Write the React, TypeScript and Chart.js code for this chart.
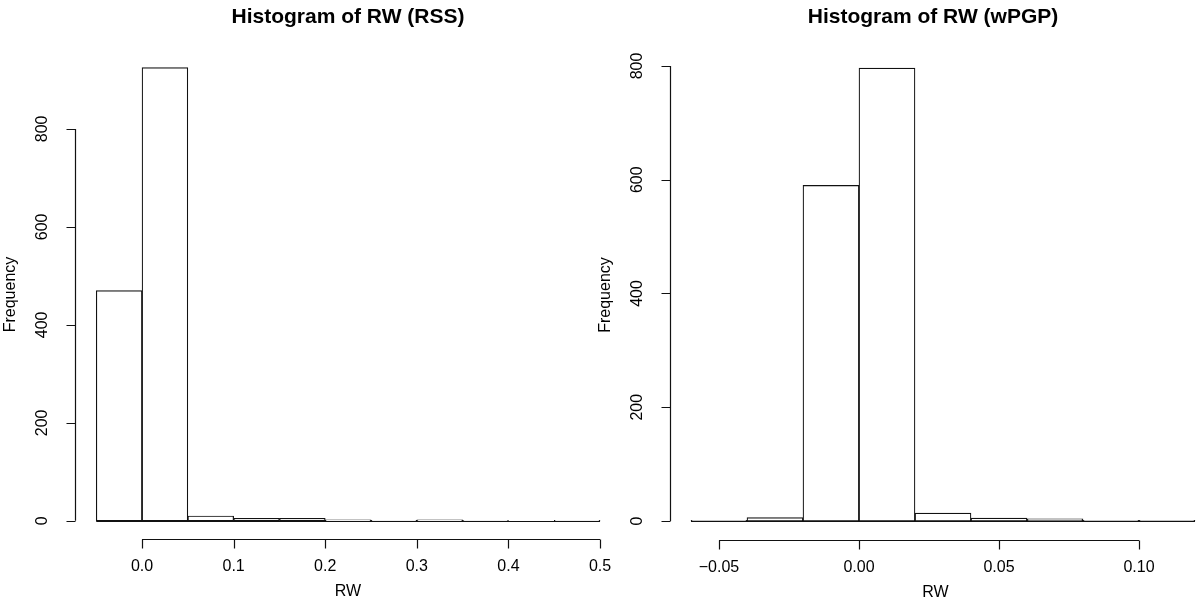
import React, { useEffect, useRef } from "react";
import { Chart, registerables } from "chart.js";

Chart.register(...registerables);

// ---------- Data: left panel (RSS) ----------
const rssTitle = "Histogram of RW (RSS)";
const rssBinEdges = [-0.05, 0, 0.05, 0.1, 0.15, 0.2, 0.25, 0.3, 0.35, 0.4, 0.45, 0.5];
const rssCounts = [470, 925, 10, 5, 5, 2, 1, 2, 1, 0, 1];
const rssXTicks = [0, 0.1, 0.2, 0.3, 0.4, 0.5];
const rssXTickLabels = ["0.0", "0.1", "0.2", "0.3", "0.4", "0.5"];
const rssYTicks = [0, 200, 400, 600, 800];
const rssYTickLabels = ["0", "200", "400", "600", "800"];

// ---------- Data: right panel (wPGP) ----------
const wpgpTitle = "Histogram of RW (wPGP)";
const wpgpBinEdges = [-0.06, -0.04, -0.02, 0, 0.02, 0.04, 0.06, 0.08, 0.1, 0.12];
const wpgpCounts = [1, 6, 590, 796, 14, 5, 4, 1, 1];
const wpgpXTicks = [-0.05, 0, 0.05, 0.1];
const wpgpXTickLabels = ["\u22120.05", "0.00", "0.05", "0.10"];
const wpgpYTicks = [0, 200, 400, 600, 800];
const wpgpYTickLabels = ["0", "200", "400", "600", "800"];

const xAxisLabel = "RW";
const yAxisLabel = "Frequency";

const W = 1200;
const H = 606;
const FONT = '"Liberation Sans", Arial, Helvetica, sans-serif';

type Panel = {
  title: string;
  edges: number[];
  counts: number[];
  xTicks: number[];
  xTickLabels: string[];
  yTicks: number[];
  yTickLabels: string[];
  xMin: number;
  xMax: number;
  yMin: number;
  yMax: number;
  padding: { left: number; right: number; top: number; bottom: number };
  titleX: number;
};

const panels: Panel[] = [
  {
    title: rssTitle,
    edges: rssBinEdges,
    counts: rssCounts,
    xTicks: rssXTicks,
    xTickLabels: rssXTickLabels,
    yTicks: rssYTicks,
    yTickLabels: rssYTickLabels,
    xMin: -0.0721,
    xMax: 0.5218,
    yMin: -37,
    yMax: 961,
    padding: { left: 76, right: W - 620, top: 50, bottom: H - 539 },
    titleX: 348,
  },
  {
    title: wpgpTitle,
    edges: wpgpBinEdges,
    counts: wpgpCounts,
    xTicks: wpgpXTicks,
    xTickLabels: wpgpXTickLabels,
    yTicks: wpgpYTicks,
    yTickLabels: wpgpYTickLabels,
    xMin: -0.06714,
    xMax: 0.12179,
    yMin: -33.4,
    yMax: 828,
    padding: { left: 671, right: 0, top: 50, bottom: H - 540 },
    titleX: 933,
  },
];

function makeAxesPlugin(p: Panel) {
  return {
    id: "rAxes",
    afterDraw(chart: any) {
      const { ctx, chartArea } = chart;
      const xs = chart.scales.x;
      const ys = chart.scales.y;
      ctx.save();
      ctx.strokeStyle = "#111";
      ctx.fillStyle = "#000";
      ctx.lineWidth = 1.2;

      // histogram baseline (bottom edges of all bins)
      const y0 = Math.round(ys.getPixelForValue(0)) + 0.5;
      ctx.beginPath();
      ctx.moveTo(xs.getPixelForValue(p.edges[0]), y0);
      ctx.lineTo(xs.getPixelForValue(p.edges[p.edges.length - 1]), y0);
      ctx.stroke();

      const tickLen = 9;
      // x axis
      const ab = Math.round(chartArea.bottom) + 0.5;
      const xt = xs.ticks.map((t: any) => t.value);
      ctx.beginPath();
      ctx.moveTo(xs.getPixelForValue(xt[0]), ab);
      ctx.lineTo(xs.getPixelForValue(xt[xt.length - 1]), ab);
      xt.forEach((v: number) => {
        const px = Math.round(xs.getPixelForValue(v)) + 0.5;
        ctx.moveTo(px, ab);
        ctx.lineTo(px, ab + tickLen);
      });
      ctx.stroke();
      ctx.font = `16px ${FONT}`;
      ctx.textAlign = "center";
      ctx.textBaseline = "middle";
      xt.forEach((v: number, i: number) => {
        ctx.fillText(p.xTickLabels[i], xs.getPixelForValue(v), chartArea.bottom + 28);
      });
      ctx.fillText(xAxisLabel, (chartArea.left + chartArea.right) / 2, chartArea.bottom + 53);

      // y axis
      const al = Math.round(chartArea.left) - 0.5;
      const yt = ys.ticks.map((t: any) => t.value);
      ctx.beginPath();
      ctx.moveTo(al, ys.getPixelForValue(yt[0]));
      ctx.lineTo(al, ys.getPixelForValue(yt[yt.length - 1]));
      yt.forEach((v: number) => {
        const py = Math.round(ys.getPixelForValue(v)) + 0.5;
        ctx.moveTo(al, py);
        ctx.lineTo(al - tickLen, py);
      });
      ctx.stroke();
      yt.forEach((v: number, i: number) => {
        ctx.save();
        ctx.translate(chartArea.left - 33, ys.getPixelForValue(v));
        ctx.rotate(-Math.PI / 2);
        ctx.fillText(p.yTickLabels[i], 0, 0);
        ctx.restore();
      });
      ctx.save();
      ctx.translate(chartArea.left - 65, (chartArea.top + chartArea.bottom) / 2);
      ctx.rotate(-Math.PI / 2);
      ctx.fillText(yAxisLabel, 0, 0);
      ctx.restore();

      // title
      ctx.font = `bold 21px ${FONT}`;
      ctx.fillText(p.title, p.titleX, 17);
      ctx.restore();
    },
  };
}

function HistPanel({ p }: { p: Panel }) {
  const ref = useRef<HTMLCanvasElement | null>(null);
  useEffect(() => {
    if (!ref.current) return;
    const data = p.counts.map((c, i) => ({
      x: (p.edges[i] + p.edges[i + 1]) / 2,
      y: c,
    }));
    const chart = new Chart(ref.current, {
      type: "bar",
      data: {
        datasets: [
          {
            data,
            backgroundColor: "#ffffff",
            borderColor: "#111",
            borderWidth: 1.2,
            borderSkipped: false,
            barPercentage: 1,
            categoryPercentage: 1,
          } as any,
        ],
      },
      options: {
        responsive: false,
        animation: false,
        events: [],
        layout: { padding: p.padding },
        plugins: {
          legend: { display: false },
          tooltip: { enabled: false },
          title: { display: false },
        },
        scales: {
          x: {
            type: "linear",
            display: false,
            offset: false,
            min: p.xMin,
            max: p.xMax,
            afterBuildTicks: (scale: any) => {
              scale.ticks = p.xTicks.map((v) => ({ value: v }));
            },
          },
          y: {
            type: "linear",
            display: false,
            min: p.yMin,
            max: p.yMax,
            afterBuildTicks: (scale: any) => {
              scale.ticks = p.yTicks.map((v) => ({ value: v }));
            },
          },
        },
      } as any,
      plugins: [makeAxesPlugin(p)],
    });
    return () => chart.destroy();
  }, [p]);
  return (
    <canvas
      ref={ref}
      width={W}
      height={H}
      style={{ position: "absolute", left: 0, top: 0, width: W, height: H }}
    />
  );
}

export default function App() {
  return (
    <div
      style={{
        position: "fixed",
        left: 0,
        top: 0,
        width: W,
        height: H,
        background: "#ffffff",
        overflow: "hidden",
      }}
    >
      {panels.map((p, i) => (
        <HistPanel key={i} p={p} />
      ))}
    </div>
  );
}
